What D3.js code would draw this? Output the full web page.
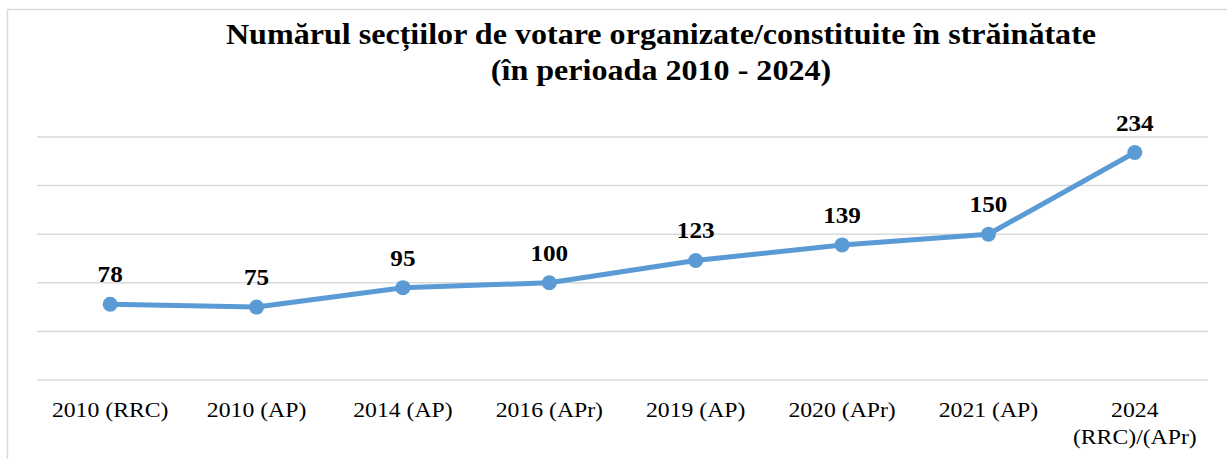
<!DOCTYPE html>
<html><head><meta charset="utf-8">
<script src="https://cdn.jsdelivr.net/npm/d3@7"></script>
<style>html,body{margin:0;padding:0;background:#fff;}svg{display:block;}</style>
</head><body>
<svg id="c" width="1227" height="459"></svg>
<script>
const categories = [["2010 (RRC)"],["2010 (AP)"],["2014 (AP)"],["2016 (APr)"],["2019 (AP)"],["2020 (APr)"],["2021 (AP)"],["2024","(RRC)/(APr)"]];
const values = [78, 75, 95, 100, 123, 139, 150, 234];
const yTicks = [0, 50, 100, 150, 200, 250];
const titleLines = ["Numărul secțiilor de votare organizate/constituite în străinătate", "(în perioada 2010 - 2024)"];

const svg = d3.select("#c");
const plot = {left: 37, right: 1208, top: 137, bottom: 380};
const serif = "'Liberation Serif','Times New Roman',serif";

// chart border (left/top visible)
svg.append("rect").attr("x", 7.5).attr("y", 9.5).attr("width", 1240).attr("height", 470)
  .attr("fill", "none").attr("stroke", "#d9d9d9").attr("stroke-width", 1.5);

const keys = categories.map((c, i) => i);
const x = d3.scalePoint().domain(keys).range([plot.left, plot.right]).padding(0.5);
const y = d3.scaleLinear().domain([0, 250]).range([plot.bottom, plot.top]);

// gridlines
svg.append("g").selectAll("line").data(yTicks).join("line")
  .attr("x1", plot.left).attr("x2", plot.right)
  .attr("y1", d => y(d)).attr("y2", d => y(d))
  .attr("stroke", "#d9d9d9").attr("stroke-width", 1.5);

// title
const title = svg.append("text").attr("font-family", serif).attr("font-weight", "bold")
  .attr("font-size", 30).attr("text-anchor", "middle").attr("fill", "#000")
  .attr("transform", "translate(661,0) scale(1.07,1)");
titleLines.forEach((t, i) => {
  title.append("tspan").attr("x", 0).attr("y", 44 + i * 36).text(t);
});

// x labels
const xl = svg.append("g").attr("font-family", serif).attr("font-size", 21).attr("fill", "#000");
categories.forEach((lines, i) => {
  const g = xl.append("text").attr("text-anchor", "middle")
    .attr("transform", `translate(${x(i)},0) scale(1.13,1)`);
  lines.forEach((l, j) => g.append("tspan").attr("x", 0).attr("y", 417 + j * 27).text(l));
});

// line
const line = d3.line().x((d, i) => x(i)).y(d => y(d));
svg.append("path").datum(values).attr("d", line).attr("fill", "none")
  .attr("stroke", "#5b9bd5").attr("stroke-width", 5).attr("stroke-linejoin", "round").attr("stroke-linecap", "round");

svg.append("g").selectAll("circle").data(values).join("circle")
  .attr("cx", (d, i) => x(i)).attr("cy", d => y(d)).attr("r", 7.5).attr("fill", "#5b9bd5");

// data labels
svg.append("g").selectAll("text").data(values).join("text")
  .attr("font-family", serif).attr("font-weight", "bold").attr("font-size", 24)
  .attr("text-anchor", "middle")
  .attr("transform", (d, i) => `translate(${x(i)},${y(d) - 22}) scale(1.05,1)`)
  .text(d => d);
</script>
</body></html>
